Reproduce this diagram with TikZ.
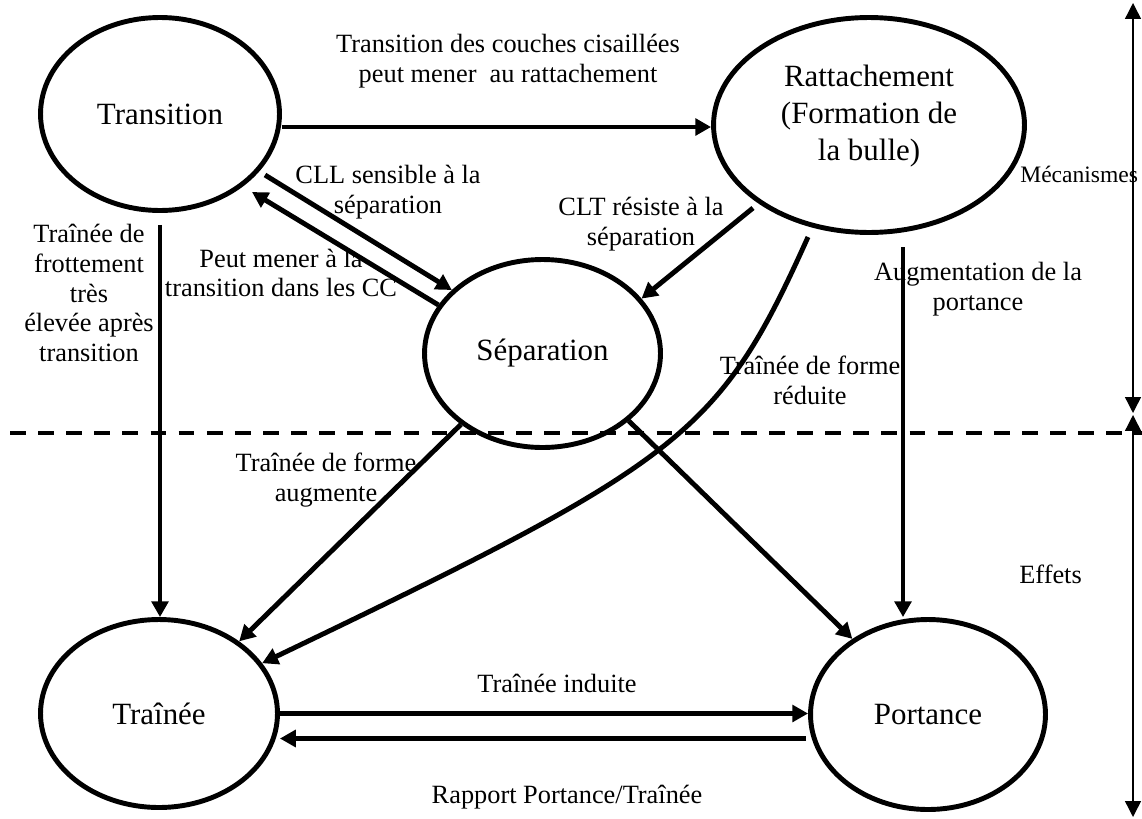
\documentclass[tikz,border=0pt]{standalone}
\usepackage{fontspec}
\setmainfont{Liberation Serif}
\usetikzlibrary{arrows.meta,shapes.geometric,calc}
\newcommand\fsBig{\fontsize{17.6}{21}\selectfont}
\newcommand\fsSmall{\fontsize{15}{17}\selectfont}
\newcommand\fsSide{\fontsize{13.4}{16}\selectfont}
\begin{document}
\begin{tikzpicture}[x=0.02cm,y=-0.02cm,
  elli/.style={draw, ellipse, line width=2.8pt, inner sep=0pt, font=\fsBig},
  conn/.style={line width=2.8pt, -{Triangle[length=9pt,width=9.5pt]}},
  lbl/.style={font=\fsSmall, align=center, inner sep=0pt},
  axis/.style={line width=0.8pt, {Triangle[length=9pt,width=9pt]}-{Triangle[length=9pt,width=9pt]}},
  sep/.style={line width=2.3pt, dash pattern=on 9pt off 7pt}]
\useasboundingbox (0,0) rectangle (1142,818);
% ellipses
\node[elli, minimum width=4.78cm, minimum height=3.86cm] (T) at (160,114) {Transition};
\node[elli, minimum width=6.22cm, minimum height=4.3cm] (R) at (869,125) {};
\node[font=\fsBig, align=center, inner sep=0pt] (Rt) at (869,116) {Rattachement\\(Formation de\\la bulle)};
\node[elli, minimum width=4.72cm, minimum height=3.76cm] (S) at (542.5,353.5) {Séparation};
\node[elli, minimum width=4.74cm, minimum height=3.76cm] (D) at (159,713.5) {Traînée};
\node[elli, minimum width=4.7cm, minimum height=3.8cm] (P) at (928,714.5) {Portance};
% connectors
\draw[conn] ($(T.east)+(0,13)$) -- ($(R.west)+(0,2)$);
\draw[conn] ($(T.center)+(105,61)$) -- (S.145);
\draw[conn] (S.155) -- ($(T.center)+(92,78)$);
\draw[conn] ($(R.center)+(-116,83)$) -- (S.29);
\draw[conn] ($(R.center)+(-61,112)$) .. controls (719,435) and (684,461) .. (D.26);
\draw[conn] (S.-139) -- (D.42);
\draw[conn] (S.-38) -- (P.135);
\coordinate (g0) at ($(R.center)+(34,122)$);
\draw[conn] (g0) -- (g0 |- P.north);
\coordinate (t0) at ($(T.south)+(0,12)$);
\draw[conn] (t0) -- (t0 |- D.north);
\draw[conn] (D.east) -- (D.east -| P.west);
\coordinate (j0) at ($(P.west)+(-2,24)$);
\draw[conn] (j0) -- (j0 -| D.east);
% separator and axis
\coordinate (s0) at (10,433);
\coordinate (s1) at (1142,433);
\draw[sep] (s0) -- (s1);
\coordinate (a0) at (1133,3);
\coordinate (a1) at (1133,413);
\coordinate (a2) at (1133,415);
\coordinate (a3) at (1133,817);
\draw[axis] (a0) -- (a1);
\draw[axis] (a2) -- (a3);
% labels
\node[lbl] (l1) at (508,61) {Transition des couches cisaillées\\peut mener~ au rattachement};
\node[lbl] (l2) at (388,192) {CLL sensible à la\\séparation};
\node[lbl] (l3) at (281,273) {Peut mener à la\\transition dans les CC};
\node[lbl] (l4) at (641,224) {CLT résiste à la\\séparation};
\node[lbl] (l5) at (89,293) {Traînée de\\frottement\\très\\élevée après\\transition};
\node[lbl] (l6) at (978,289) {Augmentation de la\\portance};
\node[lbl] (l7) at (810,380.5) {Traînée de forme\\réduite};
\node[lbl] (l8) at (326,480) {Traînée de forme\\augmente};
\node[lbl, anchor=base] (l9) at (557,692) {Traînée induite};
\node[lbl, anchor=base] (l10) at (567,803) {Rapport Portance/Traînée};
\node[font=\fsSide, inner sep=0pt, anchor=base west] (m) at (1020,182) {Mécanismes};
\node[font=\fsSmall, inner sep=0pt, anchor=base west] (e) at (1019,583) {Effets};
\end{tikzpicture}
\end{document}
